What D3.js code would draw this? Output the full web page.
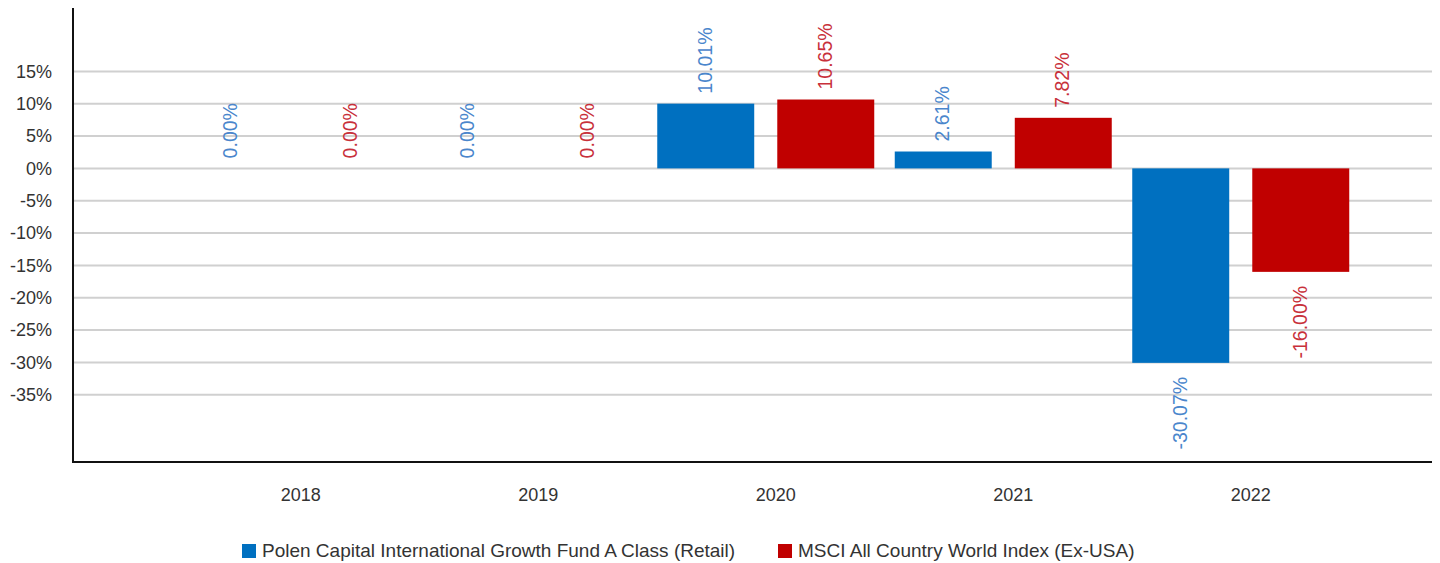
<!DOCTYPE html>
<html><head><meta charset="utf-8">
<script src="https://cdn.jsdelivr.net/npm/d3@7"></script>
<style>body{margin:0;background:#fff;font-family:"Liberation Sans",Arial,sans-serif;}</style>
</head><body><svg id="c" width="1440" height="563"></svg>
<script>
const years = ["2018","2019","2020","2021","2022"];
const seriesNames = ["Polen Capital International Growth Fund A Class (Retail)","MSCI All Country World Index (Ex-USA)"];
const fundValues = [0.00, 0.00, 10.01, 2.61, -30.07];
const indexValues = [0.00, 0.00, 10.65, 7.82, -16.00];
const yTicks = [15,10,5,0,-5,-10,-15,-20,-25,-30,-35];
const barColors = ["#0070c0","#c00000"];
const labelColors = ["#4a86cc","#c8303a"];

(function(){
const svg = d3.select("#c");
const F = '"Liberation Sans",Arial,sans-serif';
const pL = 73, pR = 1432, pT = 8, pB = 462;
const y = d3.scaleLinear().domain([-45.4, 24.8]).range([pB, pT]);
const x0 = d3.scaleBand().domain(years).range([172, 1359.5]);
const x1 = d3.scaleBand().domain([0,1]).range([0, 217]).paddingInner(0.192);

// grid
svg.append("g").selectAll("line").data(yTicks).join("line")
  .attr("x1", pL+1).attr("x2", pR).attr("y1", d=>y(d)).attr("y2", d=>y(d))
  .attr("stroke","#d0d0d0").attr("stroke-width",2);

// y axis labels
const yAxis = d3.axisLeft(y).tickValues(yTicks).tickFormat(d=>d+"%").tickSize(0).tickPadding(21);
const ga = svg.append("g").attr("transform",`translate(${pL},0)`).call(yAxis);
ga.select(".domain").remove();
ga.selectAll("text").attr("font-family",F).attr("font-size",18).attr("fill","#333");

// bars
const data = [];
years.forEach((yr,i)=>{ data.push({yr, s:0, v:fundValues[i]}); data.push({yr, s:1, v:indexValues[i]}); });
const bx = d => x0(d.yr) + x0.bandwidth()/2 - 108.5 + x1(d.s);
svg.append("g").selectAll("rect").data(data.filter(d=>d.v!==0)).join("rect")
  .attr("x", bx).attr("width", x1.bandwidth())
  .attr("y", d=>y(Math.max(0,d.v))).attr("height", d=>Math.abs(y(d.v)-y(0)))
  .attr("fill", d=>barColors[d.s]);

// value labels
svg.append("g").selectAll("text").data(data).join("text")
  .attr("transform", d=>{
    const cx = bx(d) + x1.bandwidth()/2 + 6;
    const yy = d.v >= 0 ? y(d.v) - 10 : y(d.v) + 14;
    return `translate(${cx},${yy}) rotate(-90)`;
  })
  .attr("text-anchor", d=> d.v>=0 ? "start" : "end")
  .attr("font-family",F).attr("font-size",19.5)
  .attr("fill", d=>labelColors[d.s])
  .text(d=>d.v.toFixed(2)+"%");

// axes lines
svg.append("line").attr("x1",pL).attr("x2",pL).attr("y1",pT).attr("y2",pB+1).attr("stroke","#111").attr("stroke-width",2);
svg.append("line").attr("x1",pL).attr("x2",pR).attr("y1",pB).attr("y2",pB).attr("stroke","#111").attr("stroke-width",2);

// x labels
svg.append("g").selectAll("text").data(years).join("text")
  .attr("x", d=>x0(d)+x0.bandwidth()/2+10).attr("y", 501)
  .attr("text-anchor","middle").attr("font-family",F).attr("font-size",18).attr("fill","#333")
  .text(d=>d);

// legend
const lg = [{x:242, i:0},{x:778, i:1}];
const L = svg.append("g");
lg.forEach(o=>{
  L.append("rect").attr("x",o.x).attr("y",544).attr("width",14).attr("height",14).attr("fill",barColors[o.i]);
  L.append("text").attr("x",o.x+20).attr("y",557).attr("font-family",F).attr("font-size",19).attr("fill","#333").text(seriesNames[o.i]);
});
})();
</script></body></html>
